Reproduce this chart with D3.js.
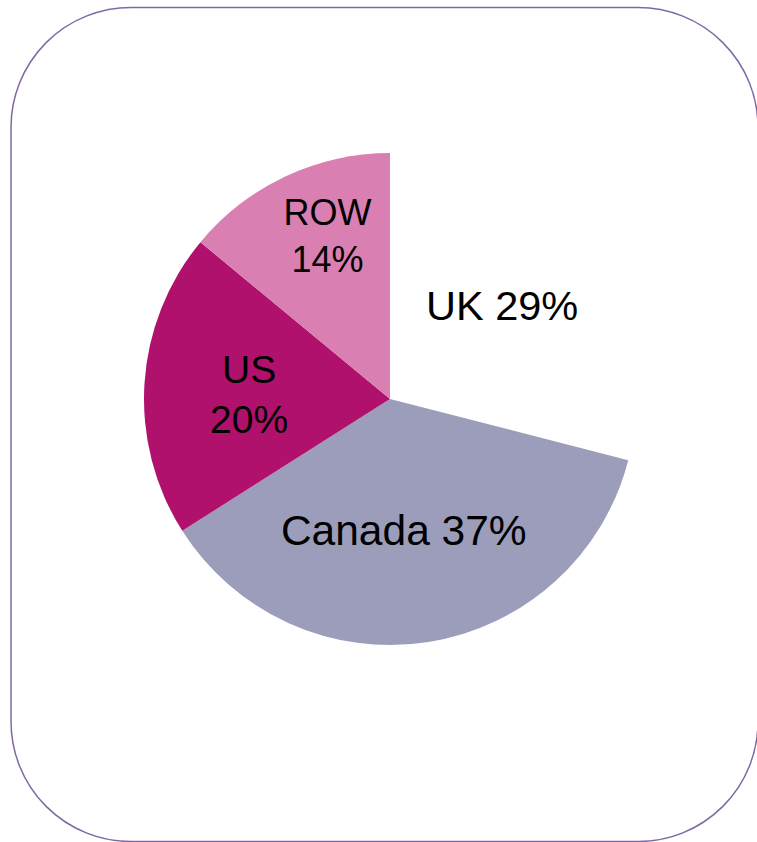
<!DOCTYPE html>
<html>
<head>
<meta charset="utf-8">
<script src="https://cdn.jsdelivr.net/npm/d3@7"></script>
<style>
  html, body { margin: 0; padding: 0; background: #fff; }
  svg { display: block; }
</style>
</head>
<body>
<div id="chart"></div>
<script>
// data
const regions = ['UK', 'Canada', 'US', 'ROW'];
const shares = [29, 37, 20, 14];
const sliceColors = ['#ffffff', '#9c9dba', '#b0116d', '#da7fb1'];

// label layout per slice: radius fraction, angle nudge (deg), font size, two lines?
const labelRadiusFrac = [0.596, 0.536, 0.575, 0.736];
const labelAngleShift = [-2.3, 3, 1.4, 5];
const labelSize = [41.5, 42.5, 39, 36];
const labelTwoLines = [false, false, true, true];

const width = 757, height = 842;
const cx = 390, cy = 399, radius = 246;

const svg = d3.select('#chart')
  .append('svg')
  .attr('width', width)
  .attr('height', height);

// rounded frame
svg.append('rect')
  .attr('x', 11)
  .attr('y', 7.5)
  .attr('width', 747)
  .attr('height', 834)
  .attr('rx', 120)
  .attr('ry', 120)
  .attr('fill', '#fff')
  .attr('stroke', '#8068a6')
  .attr('stroke-width', 1.5);

const slices = regions.map((r, i) => ({ region: r, value: shares[i], idx: i }));

const pie = d3.pie()
  .sort(null)
  .value((d) => d.value);

const arc = d3.arc().innerRadius(0).outerRadius(radius);

const g = svg.append('g').attr('transform', `translate(${cx},${cy})`);

const arcs = pie(slices);

g.selectAll('path')
  .data(arcs)
  .enter()
  .append('path')
  .attr('d', arc)
  .attr('fill', (d) => sliceColors[d.data.idx]);

// label position: mid-angle of the slice (plus a small nudge) at a given radius
function labelPos(d) {
  const i = d.data.idx;
  const a = (d.startAngle + d.endAngle) / 2 + labelAngleShift[i] * Math.PI / 180;
  const r = radius * labelRadiusFrac[i];
  return [r * Math.sin(a), -r * Math.cos(a)];
}

const labels = g.selectAll('text')
  .data(arcs)
  .enter()
  .append('text')
  .attr('transform', (d) => `translate(${labelPos(d)})`)
  .attr('text-anchor', 'middle')
  .attr('font-family', 'Liberation Sans, Arial, sans-serif')
  .attr('font-size', (d) => labelSize[d.data.idx])
  .attr('fill', '#000');

labels.each(function (d) {
  const t = d3.select(this);
  const fs = labelSize[d.data.idx];
  const pct = d.data.value + '%';
  if (labelTwoLines[d.data.idx]) {
    t.append('tspan').attr('x', 0).attr('dy', -0.1 * fs).text(d.data.region);
    t.append('tspan').attr('x', 0).attr('dy', 1.28 * fs).text(pct);
  } else {
    t.append('tspan').attr('x', 0).attr('dy', 0.36 * fs).text(d.data.region + ' ' + pct);
  }
});
</script>
</body>
</html>
